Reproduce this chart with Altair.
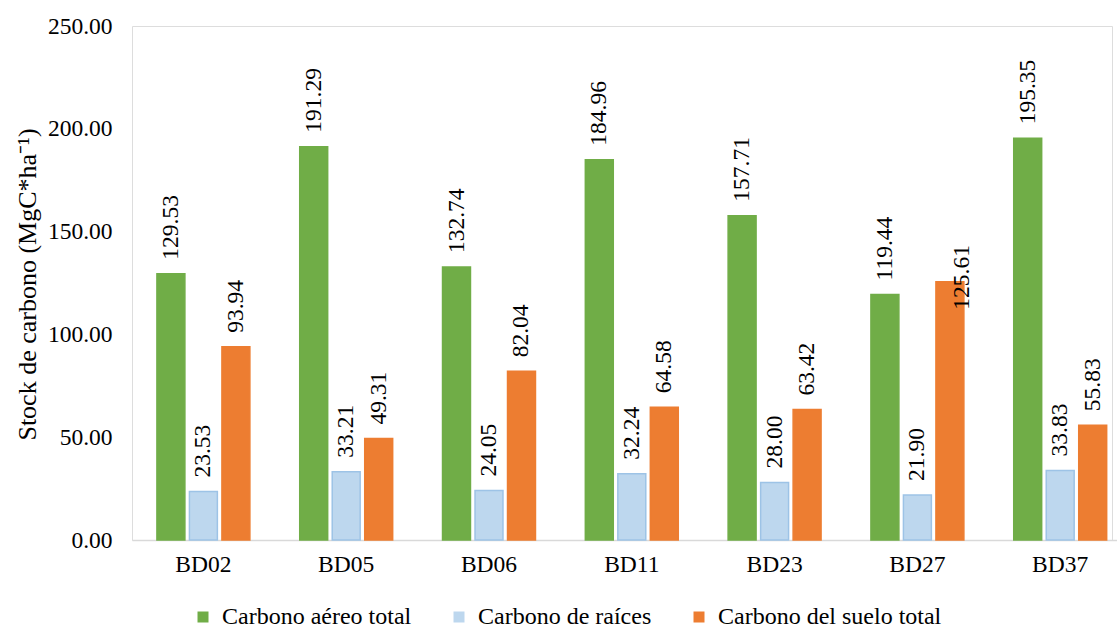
import altair as alt
import pandas as pd

# Sitios de muestreo y series de carbono (MgC/ha)
sitios = ["BD02", "BD05", "BD06", "BD11", "BD23", "BD27", "BD37"]
series = ["Carbono aéreo total", "Carbono de raíces", "Carbono del suelo total"]
carbono_aereo = [129.53, 191.29, 132.74, 184.96, 157.71, 119.44, 195.35]
carbono_raices = [23.53, 33.21, 24.05, 32.24, 28.00, 21.90, 33.83]
carbono_suelo = [93.94, 49.31, 82.04, 64.58, 63.42, 125.61, 55.83]
y_ticks = [0, 50, 100, 150, 200, 250]

relleno = ["#70AD47", "#BDD7EE", "#ED7D31"]
borde = ["#70AD47", "#9DC3E6", "#ED7D31"]

filas = []
for i, sitio in enumerate(sitios):
    for nombre, valores in zip(series, [carbono_aereo, carbono_raices, carbono_suelo]):
        filas.append({"sitio": sitio, "serie": nombre, "valor": valores[i]})
df = pd.DataFrame(filas)
df["etiqueta"] = df["valor"].map(lambda v: f"{v:.2f}")

FUENTE = "Liberation Serif"
TAM = 23.5

base = alt.Chart(df).encode(
    x=alt.X(
        "sitio:N",
        sort=sitios,
        scale=alt.Scale(range=[0, 999.6], paddingInner=0, paddingOuter=0),
        axis=alt.Axis(
            title=None,
            labelAngle=0,
            labelFont=FUENTE,
            labelFontSize=TAM,
            labelColor="#000000",
            labelPadding=12,
            ticks=False,
            grid=False,
            domainColor="#D9D9D9",
            domainWidth=1.5,
        ),
    ),
    xOffset=alt.XOffset(
        "serie:N", sort=series, scale=alt.Scale(paddingInner=0.14, paddingOuter=0.767)
    ),
    y=alt.Y(
        "valor:Q",
        scale=alt.Scale(domain=[0, 250]),
        axis=alt.Axis(
            title="Stock de carbono (MgC*ha⁻¹)",
            values=y_ticks,
            format=".2f",
            labelFont=FUENTE,
            labelFontSize=TAM,
            labelColor="#000000",
            labelPadding=20,
            domain=False,
            ticks=False,
            grid=False,
            titleFont=FUENTE,
            titleFontSize=26,
            titleFontWeight="normal",
            titleColor="#000000",
            titleAngle=270,
            titleAlign="center",
            titleBaseline="middle",
            titleX=-105,
            titleY=258,
        ),
    ),
)

barras = base.mark_bar(strokeWidth=1.5).encode(
    color=alt.Color(
        "serie:N",
        sort=series,
        scale=alt.Scale(domain=series, range=relleno),
        legend=alt.Legend(
            title=None,
            orient="none",
            legendX=59,
            legendY=579,
            direction="horizontal",
            symbolType="square",
            symbolSize=121,
            symbolStrokeWidth=0,
            labelFont=FUENTE,
            labelFontSize=24,
            labelColor="#000000",
            labelLimit=0,
            labelOffset=7,
            columnPadding=35,
            padding=0,
        ),
    ),
    stroke=alt.Stroke(
        "serie:N", sort=series, scale=alt.Scale(domain=series, range=borde), legend=None
    ),
)

es_especial = "datum.sitio == 'BD27' && datum.serie == 'Carbono del suelo total'"

etiquetas = base.mark_text(
    angle=270, align="left", baseline="middle", dx=14,
    font=FUENTE, fontSize=TAM, color="#000000",
).encode(text="etiqueta:N").transform_filter("!(" + es_especial + ")")

# La etiqueta de BD27 (suelo) queda desplazada sobre la propia barra
etiqueta_bd27 = base.mark_text(
    angle=270, align="left", baseline="middle", dx=-28, dy=12.5,
    font=FUENTE, fontSize=TAM, color="#000000",
).encode(text="etiqueta:N").transform_filter(es_especial)

chart = (
    alt.layer(barras, etiquetas, etiqueta_bd27)
    .properties(
        width=980,
        height=514,
        autosize=alt.AutoSizeParams(type="none"),
        padding={"left": 132, "top": 26, "right": 5, "bottom": 90},
        background="#FFFFFF",
    )
    .configure_view(stroke=None)
    .configure_text(font=FUENTE, fontSize=TAM, color="#000000")
    .configure(font=FUENTE)
)

chart.save("out.html", embed_options={"renderer": "svg", "actions": False})
